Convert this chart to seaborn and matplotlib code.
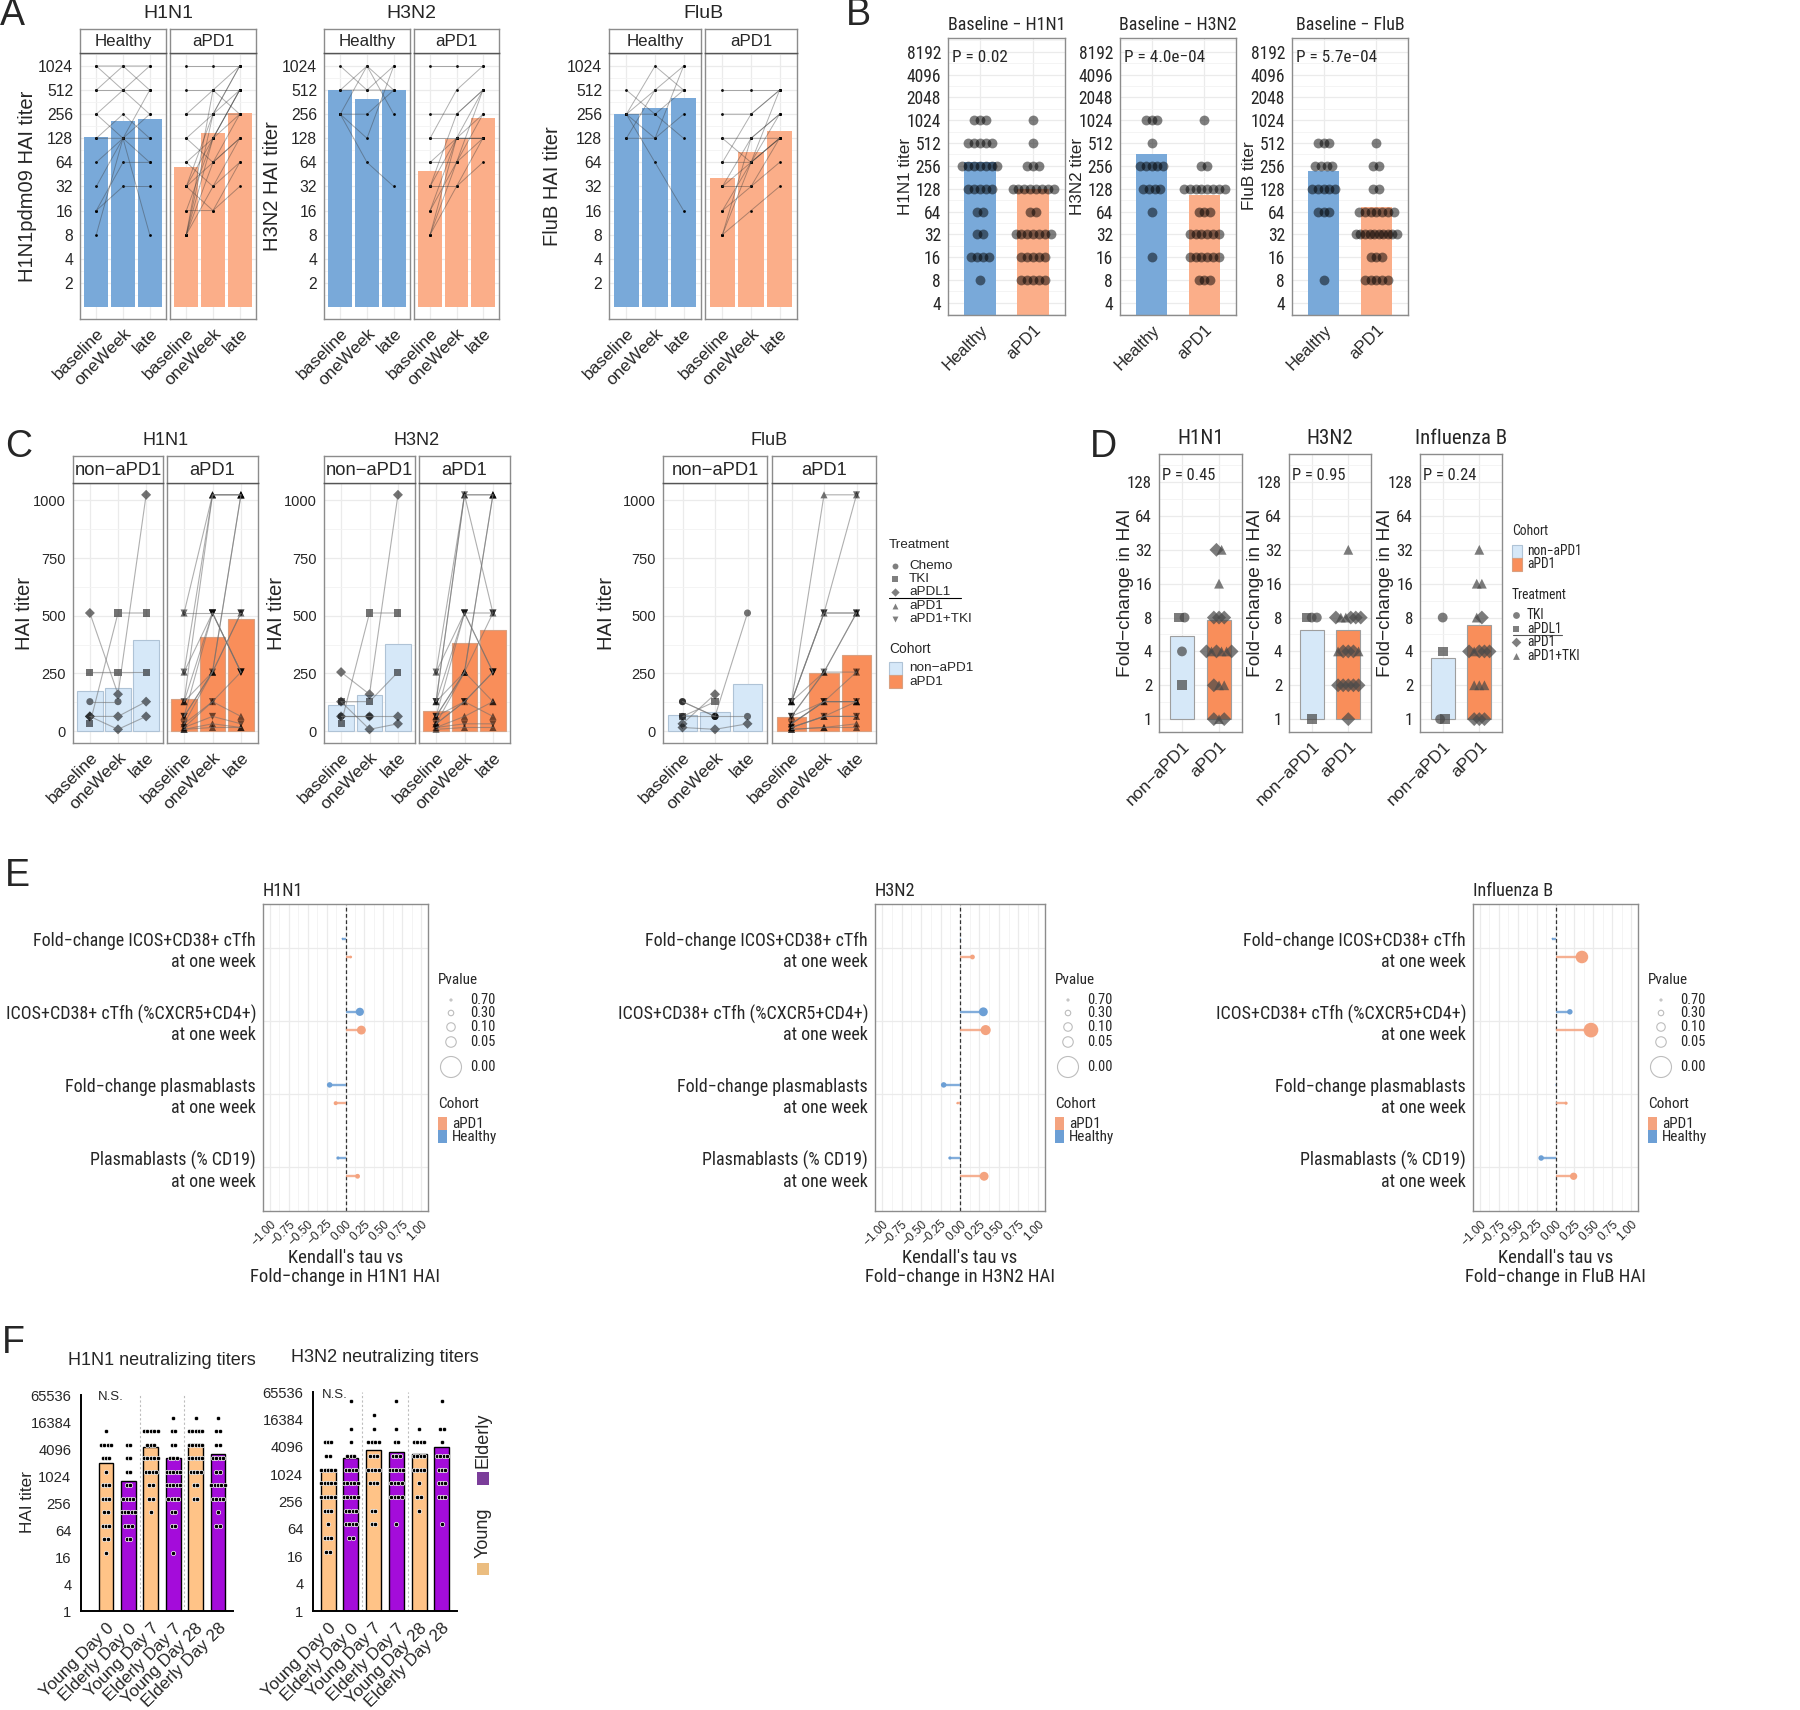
import os
import numpy as np
import pandas as pd
import matplotlib
matplotlib.use("Agg")
import matplotlib.pyplot as plt
import seaborn as sns
from matplotlib import font_manager as fm
from matplotlib.patches import Rectangle
from matplotlib.textpath import TextPath

sns.set_style("white")
_names = {f.name for f in fm.fontManager.ttflist}
BASE = "Liberation Sans" if "Liberation Sans" in _names else "DejaVu Sans"
plt.rcParams["font.family"] = [BASE, "DejaVu Sans"]
plt.rcParams["axes.unicode_minus"] = True

# look for an installed condensed sans face (used for the squeezed panels B, D, E)
_SAMPLE = "Fold-change ICOS+CD38+ cTfh 0123456789 P = 0.45 Healthy"
_PREFIXES = ("liberationsansnarrow", "liberationsans-narrow", "notosans-condensed.",
             "robotocondensed-regular", "roboto_condensed-regular", "roboto-condensed",
             "opensans-condensed", "opensans_condensed", "arialn.", "arial narrow")


def _width(prop):
    return TextPath((0, 0), _SAMPLE, size=10, prop=prop).get_extents().width


NARROW_FILE, NARROW_RATIO = None, 1.0
try:
    _bw = _width(fm.FontProperties(family=BASE))
    for _p in fm.findSystemFonts():
        _b = os.path.basename(_p).lower()
        if not _b.startswith(_PREFIXES) or "bold" in _b or "italic" in _b:
            continue
        try:
            _r = _width(fm.FontProperties(fname=_p)) / _bw
        except Exception:
            continue
        if 0.7 <= _r < 0.95 and (NARROW_FILE is None or _r < NARROW_RATIO):
            NARROW_FILE, NARROW_RATIO = _p, _r
except Exception:
    NARROW_FILE = None

NAN = np.nan
# ============================ DATA ============================
TIMEPOINTS = ["baseline", "oneWeek", "late"]

# ---- Panel A: per-subject HAI titers (baseline, oneWeek, late) ----
a_h1n1_healthy = [(1024, 512, 1024), (1024, 1024, 512), (512, 1024, 1024), (512, 512, 512),
                  (256, 128, 512), (256, 512, 256), (128, 256, 128), (128, 128, 64),
                  (64, 128, 8), (32, 128, 256), (16, 64, 64), (16, 32, 32), (8, 128, 128)]
a_h1n1_apd1 = [(1024, 1024, 1024), (512, 512, 512), (256, 512, 1024), (256, 256, 512),
               (128, 256, 256), (128, 64, 128), (64, 128, 512), (64, 32, 64), (32, 256, 1024),
               (32, 128, 256), (32, 64, 128), (32, 16, 32), (16, 128, 512), (16, 16, 64),
               (8, 64, 256), (8, 32, 128), (8, 128, 512), (8, 256, 1024), (8, 512, 256)]
a_h1n1_bars_healthy = [133, 211, 221]
a_h1n1_bars_apd1 = [56, 151, 268]

a_h3n2_healthy = [(1024, 512, 512), (512, 1024, 256), (512, 512, 1024), (256, 256, 512),
                  (256, 1024, 512), (256, 128, 1024), (256, 64, 32)]
a_h3n2_apd1 = [(1024, 1024, 1024), (256, 256, 512), (128, 512, 1024), (128, 128, 128),
               (64, 128, 512), (64, 64, 256), (32, 256, 512), (32, 128, 128), (32, 32, 128),
               (16, 64, 512), (16, 128, 256), (8, 64, 128), (8, 32, 64), (8, 128, 128)]
a_h3n2_bars_healthy = [512, 402, 512]
a_h3n2_bars_apd1 = [50, 124, 232]

a_flub_healthy = [(512, 256, 128), (256, 512, 1024), (256, 256, 512), (256, 1024, 512),
                  (128, 512, 512), (128, 128, 1024), (256, 128, 256), (256, 64, 16)]
a_flub_apd1 = [(512, 512, 512), (256, 256, 512), (128, 128, 256), (128, 64, 128),
               (64, 64, 128), (64, 256, 512), (32, 32, 128), (32, 128, 256), (32, 64, 512),
               (16, 64, 128), (16, 32, 64), (8, 64, 256), (8, 16, 32), (8, 128, 128)]
a_flub_bars_healthy = [256, 307, 406]
a_flub_bars_apd1 = [41, 87, 160]

# ---- Panel B: baseline titers, counts per level ----
B_COHORTS = ["Healthy", "aPD1"]
B_LEVELS = [8, 16, 32, 64, 128, 256, 512, 1024]
b_h1n1_healthy_counts = [1, 4, 2, 2, 5, 7, 5, 3]
b_h1n1_apd1_counts = [5, 5, 7, 2, 8, 3, 1, 1]
b_h3n2_healthy_counts = [0, 1, 0, 1, 4, 5, 1, 3]
b_h3n2_apd1_counts = [3, 6, 6, 3, 8, 2, 0, 1]
b_flub_healthy_counts = [1, 0, 0, 3, 5, 4, 3, 0]
b_flub_apd1_counts = [5, 3, 10, 7, 2, 2, 1, 0]
b_h1n1_bars = [292, 126]
b_h3n2_bars = [367, 106]
b_flub_bars = [220, 74]
b_pvalues = ["P = 0.02", "P = 4.0e\u221204", "P = 5.7e\u221204"]

# ---- Panel C: per-subject titers with treatment ----
c_h1n1_non_tx = ["TKI", "TKI", "Chemo", "aPDL1", "aPDL1", "aPDL1"]
c_h1n1_non = [(256, 256, 256), (32, 512, 512), (128, 128, NAN), (512, 160, 1024),
              (64, 64, 128), (64, 8, 64)]
c_h1n1_apd1_tx = ["aPD1", "aPD1+TKI", "aPD1", "aPD1+TKI", "aPD1", "aPD1+TKI", "aPD1", "aPD1+TKI",
                  "aPD1", "aPD1+TKI", "aPD1", "aPD1+TKI", "aPD1", "aPD1+TKI", "aPD1", "aPD1"]
c_h1n1_apd1 = [(512, 1024, 1024), (512, 512, 512), (256, 1024, 1024), (256, 512, 256),
               (128, 1024, 1024), (128, 512, 256), (128, 256, 1024), (64, 256, 512),
               (64, 256, 1024), (64, 512, 256), (32, 256, 512), (32, 128, 256),
               (16, 128, 64), (16, 64, 32), (8, 32, 16), (8, 16, 16)]

c_h3n2_non_tx = ["TKI", "TKI", "Chemo", "aPDL1", "aPDL1", "aPDL1"]
c_h3n2_non = [(32, 512, 512), (128, 128, 256), (64, 64, NAN), (256, 160, 1024),
              (64, 64, 64), (128, 8, 32)]
c_h3n2_apd1_tx = ["aPD1", "aPD1+TKI", "aPD1", "aPD1+TKI", "aPD1", "aPD1+TKI", "aPD1", "aPD1+TKI",
                  "aPD1", "aPD1+TKI", "aPD1", "aPD1+TKI", "aPD1", "aPD1", "aPD1+TKI", "aPD1"]
c_h3n2_apd1 = [(256, 1024, 1024), (256, 512, 512), (128, 1024, 1024), (128, 512, 256),
               (128, 256, 1024), (128, 1024, 512), (64, 256, 1024), (64, 512, 256),
               (64, 256, 512), (64, 128, 256), (32, 256, 128), (32, 128, 256),
               (32, 128, 64), (16, 64, 128), (16, 32, 32), (8, 16, 16)]

c_flub_non_tx = ["Chemo", "Chemo", "TKI", "aPDL1", "aPDL1", "Chemo"]
c_flub_non = [(128, 64, 512), (64, 64, 64), (64, 128, NAN), (32, 160, NAN),
              (16, 8, 32), (128, 64, NAN)]
c_flub_apd1_tx = ["aPD1", "aPD1+TKI", "aPD1", "aPD1+TKI", "aPD1", "aPD1+TKI", "aPD1", "aPD1+TKI",
                  "aPD1", "aPD1+TKI", "aPD1", "aPD1", "aPD1+TKI", "aPD1", "aPD1", "aPD1"]
c_flub_apd1 = [(128, 1024, 1024), (128, 512, 1024), (128, 512, 512), (128, 512, 512),
               (128, 256, 512), (64, 256, 512), (64, 256, 256), (64, 128, 256),
               (32, 128, 128), (32, 128, 128), (32, 128, 128), (16, 64, 128),
               (16, 64, 64), (16, 64, 64), (8, 16, 32), (8, 16, 16)]

# ---- Panel D: fold-change in HAI ----
D_COHORTS = ["non\u2212aPD1", "aPD1"]
d_h1n1_non = [8, 8, 4, 2]
d_h1n1_non_tx = ["aPDL1", "TKI", "TKI", "aPDL1"]
d_h1n1_apd1 = [32, 32, 16, 8, 8, 8, 4, 4, 4, 4, 4, 4, 2, 2, 2, 1, 1, 1]
d_h1n1_apd1_tx = ["aPD1", "aPD1+TKI", "aPD1+TKI", "aPD1", "aPD1", "aPD1", "aPD1", "aPD1+TKI",
                  "aPD1", "aPD1+TKI", "aPD1+TKI", "aPD1", "aPD1", "aPD1+TKI", "aPD1+TKI",
                  "aPD1", "aPD1+TKI", "aPD1"]
d_h3n2_non = [8, 8, 8, 1]
d_h3n2_non_tx = ["aPDL1", "TKI", "TKI", "aPDL1"]
d_h3n2_apd1 = [32, 8, 8, 8, 8, 8, 8, 4, 4, 4, 4, 4, 2, 2, 2, 2, 2, 1]
d_h3n2_apd1_tx = ["aPD1+TKI", "aPD1", "aPD1+TKI", "aPD1+TKI", "aPD1", "aPD1", "aPD1",
                  "aPD1+TKI", "aPD1", "aPD1", "aPD1", "aPD1+TKI", "aPD1", "aPD1", "aPD1",
                  "aPD1", "aPD1", "aPD1"]
d_flub_non = [8, 4, 1, 1]
d_flub_non_tx = ["TKI", "aPDL1", "TKI", "aPDL1"]
d_flub_apd1 = [32, 16, 16, 8, 8, 4, 4, 4, 4, 4, 2, 2, 2, 1, 1, 1]
d_flub_apd1_tx = ["aPD1+TKI", "aPD1+TKI", "aPD1+TKI", "aPD1+TKI", "aPD1", "aPD1", "aPD1+TKI",
                  "aPD1", "aPD1", "aPD1", "aPD1+TKI", "aPD1+TKI", "aPD1+TKI", "aPD1", "aPD1", "aPD1"]
d_pvalues = ["P = 0.45", "P = 0.95", "P = 0.24"]
d_titles = ["H1N1", "H3N2", "Influenza B"]

# ---- Panel E: Kendall's tau & p-values ----
E_FEATURES = ["Fold\u2212change ICOS+CD38+ cTfh\nat one week",
              "ICOS+CD38+ cTfh (%CXCR5+CD4+)\nat one week",
              "Fold\u2212change plasmablasts\nat one week",
              "Plasmablasts (% CD19)\nat one week"]
e_h1n1_tau_healthy = [-0.04, 0.19, -0.21, -0.10]
e_h1n1_tau_apd1 = [0.07, 0.21, -0.13, 0.16]
e_h1n1_p_healthy = [0.75, 0.12, 0.30, 0.57]
e_h1n1_p_apd1 = [0.63, 0.09, 0.47, 0.38]
e_h3n2_tau_healthy = [0.005, 0.30, -0.21, -0.13]
e_h3n2_tau_apd1 = [0.16, 0.33, -0.035, 0.31]
e_h3n2_p_healthy = [0.95, 0.09, 0.30, 0.57]
e_h3n2_p_apd1 = [0.38, 0.06, 0.70, 0.09]
e_flub_tau_healthy = [-0.04, 0.19, 0.0, -0.19]
e_flub_tau_apd1 = [0.35, 0.47, 0.14, 0.24]
e_flub_p_healthy = [0.75, 0.30, 0.98, 0.30]
e_flub_p_apd1 = [0.04, 0.03, 0.57, 0.18]
E_PLEGEND = [0.70, 0.30, 0.10, 0.05, 0.00]

# ---- Panel F: neutralizing titers, counts per level ----
F_GROUPS = ["Young Day 0", "Elderly Day 0", "Young Day 7", "Elderly Day 7",
            "Young Day 28", "Elderly Day 28"]
F_LEVELS = [20, 40, 80, 160, 320, 640, 1280, 2560, 5120, 10240, 20480, 40960]
f_h1n1_counts = [[1, 2, 3, 2, 3, 3, 1, 3, 4, 1, 0, 0],
                 [0, 2, 3, 5, 4, 2, 2, 2, 2, 0, 0, 0],
                 [0, 0, 0, 1, 2, 2, 4, 5, 3, 5, 0, 0],
                 [1, 0, 2, 2, 4, 5, 5, 3, 2, 2, 1, 0],
                 [0, 0, 0, 0, 2, 2, 4, 5, 5, 5, 1, 0],
                 [0, 0, 2, 1, 4, 5, 2, 4, 2, 2, 1, 0]]
f_h3n2_counts = [[2, 3, 1, 3, 5, 5, 5, 2, 3, 0, 0, 0],
                 [0, 2, 4, 4, 5, 5, 4, 3, 1, 1, 0, 1],
                 [0, 0, 2, 2, 0, 3, 4, 3, 4, 1, 1, 0],
                 [0, 0, 1, 0, 4, 4, 5, 3, 2, 1, 0, 1],
                 [0, 0, 0, 1, 2, 1, 4, 4, 4, 1, 0, 0],
                 [0, 0, 1, 0, 3, 3, 3, 4, 1, 2, 0, 1]]
f_h1n1_bars = [2030, 780, 4540, 2530, 5200, 3100]
f_h3n2_bars = [1190, 2340, 3500, 3170, 2860, 4000]

# ============================ STYLE ============================
C_HEALTHY, C_APD1 = "#79A9D9", "#FBAE89"
C_NON, C_APD1_C = "#D6E8F8", "#F98E5A"
E_HEALTHY, E_APD1 = "#6C9FD5", "#F4A37F"
F_YOUNG, F_ELDERLY = "#FFC387", "#A40CDA"
C_MARKERS = {"Chemo": "o", "TKI": "s", "aPDL1": "D", "aPD1": "^", "aPD1+TKI": "v"}
D_MARKERS = {"TKI": "o", "aPDL1": "s", "aPD1": "D", "aPD1+TKI": "^"}

W, H, DPI = 1800, 1710, 100
fig = plt.figure(figsize=(W / DPI, H / DPI), dpi=DPI)
fig.patch.set_facecolor("white")

ov = fig.add_axes([0, 0, 1, 1], zorder=100)
ov.set_xlim(0, W); ov.set_ylim(H, 0); ov.axis("off"); ov.patch.set_alpha(0)


def FP(size, narrow=False, grow=1.0):
    """size = regular-width equivalent; squeezed texts use a condensed face if present."""
    if narrow and NARROW_FILE:
        s = size / NARROW_RATIO * min(grow, 1.15)
        return fm.FontProperties(fname=NARROW_FILE, size=min(s, size * 1.5))
    return fm.FontProperties(family=[BASE, "DejaVu Sans"], size=size * (grow if narrow else 1.0))


def add_ax(x0, y0, x1, y1):
    return fig.add_axes([x0 / W, 1 - y1 / H, (x1 - x0) / W, (y1 - y0) / H])


def T(x, y, s, fs, ha="center", va="center", rot=0, narrow=False, grow=1.0, **kw):
    ov.text(x, y, s, fontproperties=FP(fs, narrow, grow), ha=ha, va=va, rotation=rot, **kw)


def bw(ax, xlim, ylim, xticks, yticks, xminor=None, yminor=None):
    ax.set_xlim(*xlim); ax.set_ylim(*ylim)
    ax.set_xticks(xticks); ax.set_yticks(yticks)
    if xminor is not None:
        ax.set_xticks(xminor, minor=True)
    if yminor is not None:
        ax.set_yticks(yminor, minor=True)
    ax.set_facecolor("white")
    ax.set_axisbelow(True)
    ax.grid(True, which="major", color="#EBEBEB", lw=0.9)
    if xminor is not None:
        ax.grid(True, axis="x", which="minor", color="#F3F3F3", lw=0.6)
    if yminor is not None:
        ax.grid(True, axis="y", which="minor", color="#F3F3F3", lw=0.6)
    for sp in ax.spines.values():
        sp.set_visible(True); sp.set_color("#8C8C8C"); sp.set_linewidth(1.0)
    ax.tick_params(which="major", length=3, width=0.8, color="#4D4D4D", pad=2)
    ax.tick_params(which="minor", length=0)
    ax.set_xlabel(""); ax.set_ylabel("")


def strip(x0, y0, x1, y1, label, fs):
    sa = add_ax(x0, y0, x1, y1)
    sa.set_xticks([]); sa.set_yticks([])
    sa.set_facecolor("white")
    for k, sp in sa.spines.items():
        sp.set_color("#8C8C8C" if k != "bottom" else "#555555"); sp.set_linewidth(1.0)
    sa.text(0.5, 0.47, label, ha="center", va="center", fontproperties=FP(fs),
            transform=sa.transAxes)


def row_offsets(levels, step, maxw):
    levels = np.asarray(levels, dtype=float)
    off = np.zeros(len(levels))
    for v in np.unique(levels):
        idx = np.flatnonzero(levels == v)
        n = len(idx)
        if n > 1:
            w = min((n - 1) * step, maxw)
            off[idx] = np.linspace(-w / 2, w / 2, n)
    return off


def traj_df(trajs, tx=None):
    rows = []
    for i, t in enumerate(trajs):
        for j, v in enumerate(t):
            if not np.isnan(v):
                rows.append(dict(subject=i, tp=j, titer=v, ly=np.log2(v),
                                 tx=(tx[i] if tx is not None else "")))
    return pd.DataFrame(rows)


def rot_labels(ax, labels, fs):
    ax.set_xticklabels(labels, rotation=45, ha="right", rotation_mode="anchor",
                       fontproperties=FP(fs))


def ylabels(ax, labels, fs, narrow=False, grow=1.0):
    ax.set_yticklabels(labels, fontproperties=FP(fs, narrow, grow))


# ============================ PANEL A ============================
A_SETS = [
    ("H1N1", "H1N1pdm09 HAI titer", 28, [(80, 166), (170, 256)],
     a_h1n1_healthy, a_h1n1_apd1, a_h1n1_bars_healthy, a_h1n1_bars_apd1),
    ("H3N2", "H3N2 HAI titer", 273, [(324, 410), (414, 499)],
     a_h3n2_healthy, a_h3n2_apd1, a_h3n2_bars_healthy, a_h3n2_bars_apd1),
    ("FluB", "FluB HAI titer", 553, [(609, 701), (705, 797)],
     a_flub_healthy, a_flub_apd1, a_flub_bars_healthy, a_flub_bars_apd1),
]
T(0, 15, "A", 27, ha="left")
for title, ylab, ylx, facets, th, ta, bh, ba in A_SETS:
    T((facets[0][0] + facets[1][1]) / 2, 13, title, 14)
    T(ylx, 186, ylab, 14.5, rot=90)
    for j, ((x0, x1), trajs, bars, col, lab) in enumerate(
            zip(facets, [th, ta], [bh, ba], [C_HEALTHY, C_APD1], ["Healthy", "aPD1"])):
        ax = add_ax(x0, 53, x1, 319)
        sns.barplot(x=[0, 1, 2], y=np.log2(bars), color=col, native_scale=True, orient="x",
                    width=0.9, saturation=1, linewidth=0, errorbar=None, ax=ax)
        df = traj_df(trajs)
        sns.lineplot(data=df, x="tp", y="ly", units="subject", estimator=None, color="#3A3A3A",
                     alpha=0.4, lw=0.7, legend=False, ax=ax)
        sns.scatterplot(data=df, x="tp", y="ly", color="black", s=4, linewidth=0,
                        legend=False, ax=ax)
        bw(ax, (-0.61, 2.61), (-0.5, 10.54), [0, 1, 2], list(range(1, 11)),
           yminor=np.arange(0.5, 10.6, 1))
        rot_labels(ax, TIMEPOINTS, 12.5)
        if j == 0:
            ylabels(ax, [str(2 ** i) for i in range(1, 11)], 11.3)
        else:
            ax.tick_params(axis="y", labelleft=False, length=0)
        strip(x0, 29, x1, 53, lab, 12.2)

# ============================ PANEL B ============================
B_SETS = [
    ("Baseline \u2212 H1N1", "H1N1 titer", 905, (948, 1065),
     b_h1n1_healthy_counts, b_h1n1_apd1_counts, b_h1n1_bars, b_pvalues[0]),
    ("Baseline \u2212 H3N2", "H3N2 titer", 1077, (1120, 1236),
     b_h3n2_healthy_counts, b_h3n2_apd1_counts, b_h3n2_bars, b_pvalues[1]),
    ("Baseline \u2212 FluB", "FluB titer", 1249, (1292, 1408),
     b_flub_healthy_counts, b_flub_apd1_counts, b_flub_bars, b_pvalues[2]),
]
T(846, 15, "B", 27, ha="left")
for title, ylab, ylx, (x0, x1), ch, ca, bars, ptxt in B_SETS:
    ax = add_ax(x0, 38, x1, 315)
    sns.barplot(x=[0, 1], y=np.log2(bars), hue=B_COHORTS,
                palette={"Healthy": C_HEALTHY, "aPD1": C_APD1}, native_scale=True, orient="x",
                width=0.6, saturation=1, linewidth=0, errorbar=None, dodge=False,
                legend=False, ax=ax)
    vals, xs = [], []
    for k, counts in enumerate([ch, ca]):
        v = np.repeat(B_LEVELS, counts)
        vals.append(np.log2(v)); xs.append(k + row_offsets(v, 0.11, 0.78))
    sns.scatterplot(x=np.concatenate(xs), y=np.concatenate(vals), color="black", alpha=0.5,
                    s=50, linewidth=0, legend=False, ax=ax)
    bw(ax, (-0.6, 1.6), (1.47, 13.6), [0, 1], list(range(2, 14)),
       yminor=np.arange(1.5, 13.6, 1))
    ylabels(ax, [str(2 ** i) for i in range(2, 14)], 10.4, narrow=True, grow=1.05)
    rot_labels(ax, B_COHORTS, 12)
    T((x0 + x1) / 2, 25, title, 10.2, narrow=True, grow=1.1)
    T(ylx, 176, ylab, 12.3, rot=90)
    T(x0 + 4, 58, ptxt, 9.3, ha="left", narrow=True, grow=1.2)

# ============================ PANEL C ============================
C_SETS = [
    ("H1N1", 25, [(73, 163), (167, 258)],
     (c_h1n1_non, c_h1n1_non_tx), (c_h1n1_apd1, c_h1n1_apd1_tx)),
    ("H3N2", 277, [(324, 415), (419, 510)],
     (c_h3n2_non, c_h3n2_non_tx), (c_h3n2_apd1, c_h3n2_apd1_tx)),
    ("FluB", 607, [(663, 767), (772, 876)],
     (c_flub_non, c_flub_non_tx), (c_flub_apd1, c_flub_apd1_tx)),
]
T(5, 447, "C", 27, ha="left")
for title, ylx, facets, non, apd in C_SETS:
    T((facets[0][0] + facets[1][1]) / 2, 440, title, 13)
    T(ylx, 613, "HAI titer", 14.6, rot=90)
    for j, ((x0, x1), (trajs, tx), col, ecol, lab) in enumerate(
            zip(facets, [non, apd], [C_NON, C_APD1_C], ["#AFC3D6", "#D9A080"],
                ["non\u2212aPD1", "aPD1"])):
        ax = add_ax(x0, 483, x1, 743)
        df = traj_df(trajs, tx)
        sns.barplot(data=df, x="tp", y="titer", estimator="mean", errorbar=None, color=col,
                    native_scale=True, orient="x", width=0.9, saturation=1,
                    edgecolor=ecol, linewidth=0.8, ax=ax)
        sns.lineplot(data=df, x="tp", y="titer", units="subject", estimator=None,
                     color="#6E6E6E", alpha=0.55, lw=0.8, legend=False, ax=ax)
        sns.scatterplot(data=df, x="tp", y="titer", style="tx", markers=C_MARKERS,
                        color="black", alpha=0.55, s=26, linewidth=0, legend=False, ax=ax)
        bw(ax, (-0.6, 2.6), (-51.2, 1075.2), [0, 1, 2], [0, 250, 500, 750, 1000],
           yminor=[125, 375, 625, 875])
        rot_labels(ax, TIMEPOINTS, 12.5)
        if j == 0:
            ylabels(ax, ["0", "250", "500", "750", "1000"], 10.5)
        else:
            ax.tick_params(axis="y", labelleft=False, length=0)
        strip(x0, 456, x1, 483, lab, 13.2)

# C legend
T(889, 545, "Treatment", 9.7, ha="left")
for k, (name, mk) in enumerate(C_MARKERS.items()):
    yy = 566 + k * 13.2
    ov.scatter([895], [yy], marker=mk, s=18, color="#7F7F7F", linewidth=0, clip_on=False)
    T(909, yy, name, 9.7, ha="left")
ov.plot([889, 961], [598, 598], color="black", lw=0.8)
T(889, 649, "Cohort", 9.9, ha="left")
ov.add_patch(Rectangle((889, 662), 13, 13, facecolor=C_NON, edgecolor="#AFC3D6", lw=0.8))
ov.add_patch(Rectangle((889, 675), 13, 13, facecolor=C_APD1_C, edgecolor="#D9A080", lw=0.8))
T(909, 668, "non\u2212aPD1", 9.7, ha="left")
T(909, 682, "aPD1", 9.7, ha="left")

# ============================ PANEL D ============================
D_SETS = [
    ((1159, 1242), 1125, (d_h1n1_non, d_h1n1_non_tx), (d_h1n1_apd1, d_h1n1_apd1_tx)),
    ((1289, 1371), 1255, (d_h3n2_non, d_h3n2_non_tx), (d_h3n2_apd1, d_h3n2_apd1_tx)),
    ((1420, 1502), 1386, (d_flub_non, d_flub_non_tx), (d_flub_apd1, d_flub_apd1_tx)),
]
T(1090, 447, "D", 27, ha="left")
for k, ((x0, x1), ylx, non, apd) in enumerate(D_SETS):
    ax = add_ax(x0, 454, x1, 732)
    rows = []
    for ci, (vals, tx) in enumerate([non, apd]):
        offs = row_offsets(vals, 0.14, 0.68)
        for v, t, o in zip(vals, tx, offs):
            rows.append(dict(cohort=D_COHORTS[ci], ci=ci, x=ci + o, fc=v, ly=np.log2(v), tx=t))
    dfd = pd.DataFrame(rows)
    means = dfd.groupby("ci")["fc"].mean()
    sns.barplot(x=means.index.values, y=np.log2(means.values), hue=D_COHORTS,
                palette={D_COHORTS[0]: C_NON, D_COHORTS[1]: C_APD1_C}, native_scale=True,
                orient="x", width=0.65, saturation=1, errorbar=None, dodge=False, legend=False,
                edgecolor="#9E9E9E", linewidth=0.8, ax=ax)
    sns.scatterplot(data=dfd, x="x", y="ly", style="tx", markers=D_MARKERS, color="#4A4A4A",
                    alpha=0.72, s=50, linewidth=0, legend=False, ax=ax)
    bw(ax, (-0.62, 1.62), (-0.38, 7.83), [0, 1], list(range(0, 8)),
       yminor=np.arange(0.5, 7.6, 1))
    ylabels(ax, [str(2 ** i) for i in range(0, 8)], 9.1, narrow=True, grow=1.15)
    rot_labels(ax, D_COHORTS, 12.6)
    T((x0 + x1) / 2, 438, d_titles[k], 11.3, narrow=True, grow=1.15)
    T(ylx, 593, "Fold\u2212change in HAI", 13.8, rot=90)
    T(x0 + 3, 475, d_pvalues[k], 8.9, ha="left", narrow=True, grow=1.2)

# D legend
DG = 1.15
T(1512, 531, "Cohort", 7.4, ha="left", narrow=True, grow=DG)
ov.add_patch(Rectangle((1512, 545), 10, 13, facecolor=C_NON, edgecolor="#AFC3D6", lw=0.8))
ov.add_patch(Rectangle((1512, 558), 10, 13, facecolor=C_APD1_C, edgecolor="#D9A080", lw=0.8))
T(1527, 551, "non\u2212aPD1", 7.3, ha="left", narrow=True, grow=DG)
T(1527, 564, "aPD1", 7.3, ha="left", narrow=True, grow=DG)
T(1512, 595, "Treatment", 7.3, ha="left", narrow=True, grow=DG)
for k, (name, mk) in enumerate(D_MARKERS.items()):
    yy = 615 + k * 13.7
    ov.scatter([1516], [yy], marker=mk, s=24, color="#7F7F7F", linewidth=0, clip_on=False)
    T(1527, yy, name, 7.3, ha="left", narrow=True, grow=DG)
ov.plot([1513, 1562], [635, 635], color="#555555", lw=0.8)


# ============================ PANEL E ============================
def p_to_px(p):
    return np.interp(p, [0.0, 0.05, 0.10, 0.30, 0.70, 1.0], [21, 10.5, 8.5, 5.5, 2.0, 1.0])


E_SETS = [
    ("H1N1", (263, 428), "H1N1", e_h1n1_tau_healthy, e_h1n1_tau_apd1,
     e_h1n1_p_healthy, e_h1n1_p_apd1),
    ("H3N2", (875, 1045), "H3N2", e_h3n2_tau_healthy, e_h3n2_tau_apd1,
     e_h3n2_p_healthy, e_h3n2_p_apd1),
    ("Influenza B", (1473, 1638), "FluB", e_flub_tau_healthy, e_flub_tau_apd1,
     e_flub_p_healthy, e_flub_p_apd1),
]
T(5, 876, "E", 27, ha="left")
cat_y = np.arange(1, len(E_FEATURES) + 1)
EG = 1.15
for title, (x0, x1), vname, th, ta, ph, pa in E_SETS:
    ax = add_ax(x0, 904, x1, 1211)
    ax.axvline(0, color="#333333", ls=(0, (3, 2)), lw=0.9, zorder=1)
    for tau, pv, dy, col in [(th, ph, -0.125, E_HEALTHY), (ta, pa, 0.125, E_APD1)]:
        yy = cat_y + dy
        ax.hlines(yy, 0, tau, colors=col, lw=1.7, alpha=0.85, zorder=2)
        sizes = (p_to_px(np.asarray(pv)) * 0.72) ** 2
        sns.scatterplot(x=tau, y=yy, color=col, s=sizes, linewidth=0, legend=False,
                        zorder=3, ax=ax)
    bw(ax, (-1.093, 1.093), (4.6, 0.4), np.arange(-1, 1.01, 0.25), cat_y,
       xminor=np.arange(-0.875, 0.9, 0.25))
    ylabels(ax, E_FEATURES, 10.2, narrow=True, grow=1.1)
    rot_labels(ax, [f"{v:.2f}".replace("-", "\u2212") for v in np.arange(-1, 1.01, 0.25)],
               8.5)
    T(x0, 891, title, 10.3, ha="left", narrow=True, grow=1.1)
    T((x0 + x1) / 2, 1258, "Kendall's tau vs", 10.6, narrow=True, grow=1.1)
    T((x0 + x1) / 2, 1277, f"Fold\u2212change in {vname} HAI", 10.6, narrow=True, grow=1.1)
    lx = x1 + 10
    T(lx, 980, "Pvalue", 8.2, ha="left", narrow=True, grow=EG)
    for pv, yy in zip(E_PLEGEND, [1000, 1013, 1027, 1042, 1067]):
        d = p_to_px(pv) * 0.72
        ov.scatter([lx + 13], [yy], s=d ** 2, facecolor="none", edgecolor="#BDBDBD",
                   linewidth=0.8, clip_on=False)
        T(lx + 32, yy, f"{pv:.2f}", 7.8, ha="left", narrow=True, grow=EG)
    T(lx, 1104, "Cohort", 8.3, ha="left", narrow=True, grow=EG)
    for col, yy, nm in [(E_APD1, 1117, "aPD1"), (E_HEALTHY, 1130, "Healthy")]:
        ov.add_patch(Rectangle((lx, yy), 9, 13, facecolor=col, edgecolor="none"))
        T(lx + 14, yy + 6.5, nm, 8.2, ha="left", narrow=True, grow=EG)

# ============================ PANEL F ============================
F_SETS = [
    ("H1N1 neutralizing titers", (81, 233, 1395), (-1.12, 5.67), 162, 1360, (98, 1397),
     f_h1n1_counts, f_h1n1_bars),
    ("H3N2 neutralizing titers", (313, 457, 1392), (-0.66, 5.66), 385, 1357, (322, 1395),
     f_h3n2_counts, f_h3n2_bars),
]
F_PAL = {g: (F_YOUNG if g.startswith("Young") else F_ELDERLY) for g in F_GROUPS}
T(2, 1343, "F", 27, ha="left")
T(27, 1502, "HAI titer", 12.3, rot=90)
for title, (x0, x1, ytop), xlim, tx, ty, ns, counts, bars in F_SETS:
    ax = add_ax(x0, ytop, x1, 1611)
    sns.barplot(x=np.arange(len(F_GROUPS)), y=np.log2(bars), hue=F_GROUPS, palette=F_PAL,
                native_scale=True, orient="x", width=0.66, saturation=1, errorbar=None,
                dodge=False, legend=False, edgecolor="black", linewidth=1.0, ax=ax)
    xs, ys = [], []
    for g, cnt in enumerate(counts):
        v = np.repeat(F_LEVELS, cnt)
        xs.append(g + row_offsets(v, 0.15, 0.6)); ys.append(np.log2(v))
    sns.scatterplot(x=np.concatenate(xs), y=np.concatenate(ys), color="black", s=10,
                    edgecolor="white", linewidth=0.5, legend=False, zorder=4, ax=ax)
    for sx in (1.5, 3.5):
        ax.axvline(sx, color="#BDBDBD", ls=(0, (2, 2)), lw=0.8, zorder=0)
    ax.set_xlim(*xlim); ax.set_ylim(0, 16)
    ax.set_yticks(range(0, 17, 2))
    ylabels(ax, [str(4 ** i) for i in range(0, 9)], 10.6)
    ax.set_xticks(range(len(F_GROUPS)))
    rot_labels(ax, F_GROUPS, 12.3)
    for k in ("top", "right"):
        ax.spines[k].set_visible(False)
    for k in ("left", "bottom"):
        ax.spines[k].set_color("black"); ax.spines[k].set_linewidth(1.4)
    ax.tick_params(direction="out", length=5, width=1.2, color="black", pad=2)
    ax.set_facecolor("none"); ax.grid(False)
    ax.set_xlabel(""); ax.set_ylabel("")
    T(tx, ty, title, 13)
    T(ns[0], ns[1], "N.S.", 9.5, ha="left")

T(483, 1440, "Elderly", 13, rot=90)
ov.add_patch(Rectangle((477, 1472), 12, 13, facecolor="#7B3D9A", edgecolor="none"))
T(483, 1533, "Young", 13, rot=90)
ov.add_patch(Rectangle((477, 1563), 12, 12, facecolor="#EBBD80", edgecolor="none"))

fig.savefig("out.png", dpi=DPI, facecolor="white")
